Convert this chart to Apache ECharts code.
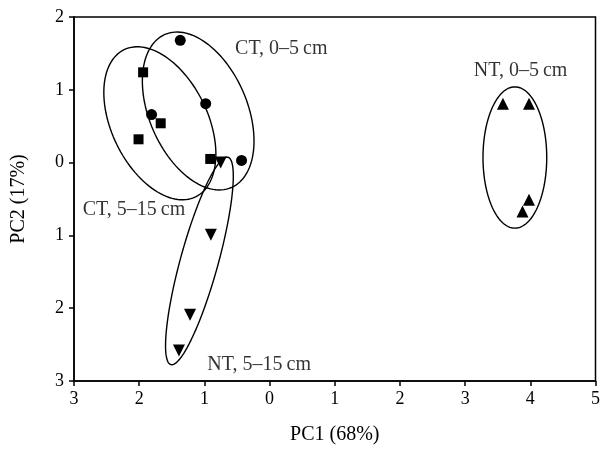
<!DOCTYPE html>
<html>
<head>
<meta charset="utf-8">
<script src="https://cdn.jsdelivr.net/npm/echarts@6/dist/echarts.min.js"></script>
<style>
  html, body { margin: 0; padding: 0; background: #fff; }
  #pca { width: 603px; height: 450px; }
</style>
</head>
<body>
<div id="pca"></div>
<script>
// PCA scores [PC1, PC2]
var ctTop = [[-1.37, 1.68], [-0.98, 0.81], [-1.81, 0.66], [-0.43, 0.03]];
var ctSub = [[-1.94, 1.24], [-1.67, 0.54], [-2.01, 0.32], [-0.91, 0.05]];
var ntSub = [[-0.75, 0.0], [-0.90, -0.99], [-1.22, -2.09], [-1.39, -2.58]];
var ntTop = [[3.58, 0.81], [3.98, 0.81], [3.98, -0.51], [3.88, -0.67]];

// ellipses: [centre PC1, centre PC2, semi-major, semi-minor (PC1 units), tilt deg]
var ellipses = [
  [-1.095, 0.709, 1.28, 0.75, 66.5],
  [-1.683, 0.540, 1.255, 0.736, 64.1],
  [-1.076, -1.351, 1.65, 0.29, -74.6],
  [3.763, 0.070, 1.084, 0.489, 90]
];

// group labels: [PC1, PC2, text]
var groupLabels = [
  [0.18, 1.56, 'CT, 0–5\u2009cm'],
  [-2.08, -0.65, 'CT, 5–15\u2009cm'],
  [-0.16, -2.77, 'NT, 5–15\u2009cm'],
  [3.85, 1.26, 'NT, 0–5\u2009cm']
];

var font = 'Liberation Serif';
var myChart = echarts.init(document.getElementById('pca'));

function pointSeries(data, symbol, size, rotate) {
  return {
    type: 'scatter',
    data: data,
    symbol: symbol,
    symbolSize: size,
    symbolRotate: rotate || 0,
    itemStyle: { color: '#000', opacity: 1 },
    z: 5
  };
}

myChart.setOption({
  animation: false,
  grid: {
    left: 74,
    top: 17,
    right: 5,
    bottom: 66,
    show: true,
    borderColor: '#000',
    borderWidth: 1.5
  },
  xAxis: {
    type: 'value',
    min: -3,
    max: 5,
    interval: 1,
    name: 'PC1 (68%)',
    nameLocation: 'middle',
    nameGap: 44,
    nameTextStyle: { fontFamily: font, fontSize: 20, color: '#000' },
    axisLine: { onZero: false, lineStyle: { color: '#000', width: 1.5 } },
    axisTick: { show: true, length: 5, lineStyle: { color: '#000', width: 1.5 } },
    axisLabel: {
      margin: 9,
      fontFamily: font,
      fontSize: 18,
      color: '#000',
      formatter: function (v) { return Math.abs(v); }
    },
    splitLine: { show: false }
  },
  yAxis: {
    type: 'value',
    min: -3,
    max: 2,
    interval: 1,
    name: 'PC2 (17%)',
    nameLocation: 'middle',
    nameGap: 45,
    nameTextStyle: { fontFamily: font, fontSize: 20, color: '#000' },
    axisLine: { onZero: false, lineStyle: { color: '#000', width: 1.5 } },
    axisTick: { show: true, length: 5, lineStyle: { color: '#000', width: 1.5 } },
    axisLabel: {
      margin: 10,
      fontFamily: font,
      fontSize: 18,
      color: '#000',
      formatter: function (v) { return Math.abs(v); }
    },
    splitLine: { show: false }
  },
  series: [
    {
      type: 'custom',
      data: ellipses,
      z: 3,
      renderItem: function (params, api) {
        var c = api.coord([api.value(0), api.value(1)]);
        var k = api.size([1, 0])[0];
        var a = api.value(2) * k;
        var b = api.value(3) * k;
        var th = api.value(4) * Math.PI / 180;
        var pts = [];
        for (var i = 0; i < 120; i++) {
          var t = i / 120 * Math.PI * 2;
          var ex = a * Math.cos(t), ey = b * Math.sin(t);
          pts.push([
            c[0] + ex * Math.cos(th) - ey * Math.sin(th),
            c[1] + ex * Math.sin(th) + ey * Math.cos(th)
          ]);
        }
        return {
          type: 'polygon',
          shape: { points: pts },
          style: { fill: 'none', stroke: '#000', lineWidth: 1.4 }
        };
      }
    },
    pointSeries(ctTop, 'circle', 11),
    pointSeries(ctSub, 'rect', 10),
    pointSeries(ntSub, 'triangle', 12, 180),
    pointSeries(ntTop, 'triangle', 12),
    {
      type: 'scatter',
      data: groupLabels,
      symbolSize: 1,
      itemStyle: { color: 'rgba(0,0,0,0)' },
      label: {
        show: true,
        position: 'inside',
        fontFamily: font,
        fontSize: 20,
        color: '#000',
        formatter: function (p) { return p.data[2]; }
      },
      z: 6
    }
  ]
});
</script>
</body>
</html>
